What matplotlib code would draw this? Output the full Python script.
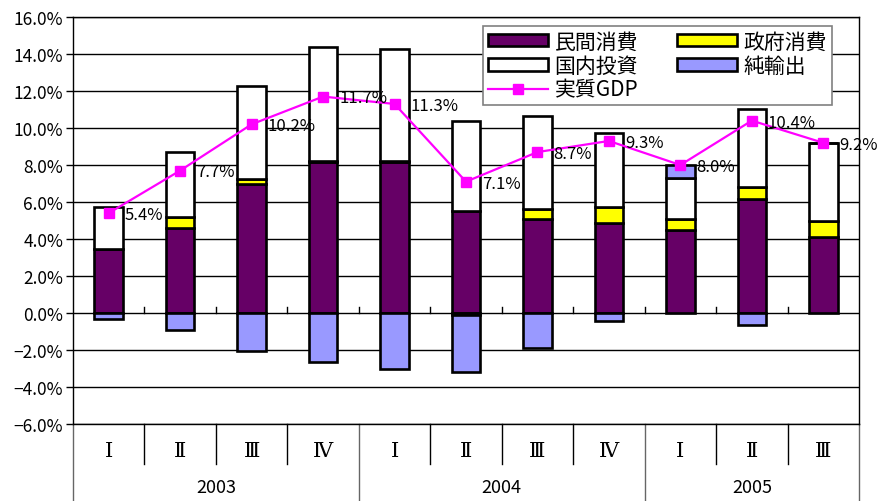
import numpy as np
import matplotlib
matplotlib.use('Agg')
import matplotlib.pyplot as plt
from matplotlib.patches import Patch
from matplotlib.lines import Line2D

plt.rcParams['font.family'] = ['Noto Sans CJK JP', 'DejaVu Sans']

# data (contribution to growth, %)
quarters = ['Ⅰ', 'Ⅱ', 'Ⅲ', 'Ⅳ', 'Ⅰ', 'Ⅱ', 'Ⅲ', 'Ⅳ', 'Ⅰ', 'Ⅱ', 'Ⅲ']
years = ['2003', '2004', '2005']
private_cons = [3.47, 4.61, 6.95, 8.16, 8.16, 5.51, 5.10, 4.86, 4.47, 6.18, 4.11]
gov_cons = [0.00, 0.56, 0.27, 0.05, 0.05, -0.10, 0.54, 0.87, 0.63, 0.63, 0.86]
investment = [2.26, 3.53, 5.05, 6.17, 6.08, 4.85, 4.99, 4.00, 2.21, 4.23, 4.22]
net_exports = [-0.31, -0.94, -2.07, -2.65, -3.01, -3.09, -1.88, -0.45, 0.67, -0.67, 0.00]
real_gdp = [5.4, 7.7, 10.2, 11.7, 11.3, 7.1, 8.7, 9.3, 8.0, 10.4, 9.2]

names = ['民間消費', '政府消費', '国内投資', '純輸出']
colors = ['#660066', '#FFFF00', '#FFFFFF', '#9999FF']
series = [private_cons, gov_cons, investment, net_exports]

fig = plt.figure(figsize=(8.77, 5.02), dpi=100)
ax = fig.add_axes([0.0832, 0.1534, 0.8963, 0.8107])

x = np.arange(len(quarters))
pos = np.zeros(len(x))
neg = np.zeros(len(x))
for vals, c in zip(series, colors):
    v = np.array(vals)
    bottom = np.where(v >= 0, pos, neg)
    ax.bar(x, v, 0.4, bottom=bottom, color=c, edgecolor='black', linewidth=1.9, zorder=3)
    pos = pos + np.where(v >= 0, v, 0)
    neg = neg + np.where(v < 0, v, 0)

ax.plot(x, real_gdp, color='#FF00FF', lw=1.6, marker='s', ms=7, zorder=5)
for xi, g in zip(x, real_gdp):
    ax.annotate(f'{g:.1f}%', (xi, g), xytext=(11.5, -1), textcoords='offset points',
                ha='left', va='center', fontsize=12, zorder=6)

ax.set_xlim(-0.5, 10.5)
ax.set_ylim(-6, 16)
ax.set_yticks(np.arange(-6, 17, 2))
ax.set_yticklabels([f'{v:.1f}%'.replace('-', '\u2212') for v in np.arange(-6, 17, 2)], fontsize=12.5)
ax.tick_params(axis='y', direction='out', length=5, width=1, pad=2)
ax.set_xticks([])
ax.grid(axis='y', color='black', lw=1)
ax.set_axisbelow(True)
for s in ax.spines.values():
    s.set_color('black')
    s.set_linewidth(1)

# small ticks on the zero line
for b in np.arange(0.5, 10, 1):
    ax.plot([b, b], [0, 0.33], color='black', lw=1, zorder=2)

# category axis below the plot
tr = ax.get_xaxis_transform()
for b in np.arange(0.5, 10, 1):
    if b in (3.5, 7.5):
        ax.plot([b, b], [0, -0.19], color='#666666', lw=1, transform=tr, clip_on=False)
    else:
        ax.plot([b, b], [0, -0.098], color='black', lw=1, transform=tr, clip_on=False)
for b in (-0.5, 10.5):
    ax.plot([b, b], [0, -0.19], color='#666666', lw=1, transform=tr, clip_on=False)
for xi, q in zip(x, quarters):
    ax.text(xi, -0.066, q, transform=tr, ha='center', va='center', fontsize=15,
            family=['DejaVu Serif', 'Noto Sans CJK JP'])
for cx, yr in zip([1.5, 5.5, 9.0], years):
    ax.text(cx, -0.155, yr, transform=tr, ha='center', va='center', fontsize=13)

handles = [Patch(facecolor=colors[0], edgecolor='black', lw=1.9, label=names[0]),
           Patch(facecolor=colors[2], edgecolor='black', lw=1.9, label=names[2]),
           Line2D([], [], color='#FF00FF', lw=1.6, marker='s', ms=7, label='実質GDP'),
           Patch(facecolor=colors[1], edgecolor='black', lw=1.9, label=names[1]),
           Patch(facecolor=colors[3], edgecolor='black', lw=1.9, label=names[3])]
leg = ax.legend(handles=handles, ncol=2, loc='upper right', bbox_to_anchor=(0.965, 0.978),
                borderaxespad=0, fontsize=15, frameon=True, fancybox=False, framealpha=1,
                edgecolor='#808080', handlelength=2.9, handleheight=0.55, handletextpad=0.3,
                columnspacing=1.85, labelspacing=0.1, borderpad=0.22, numpoints=1)
leg.get_frame().set_linewidth(1.2)
leg.set_zorder(10)

fig.savefig('out.png', dpi=100)
